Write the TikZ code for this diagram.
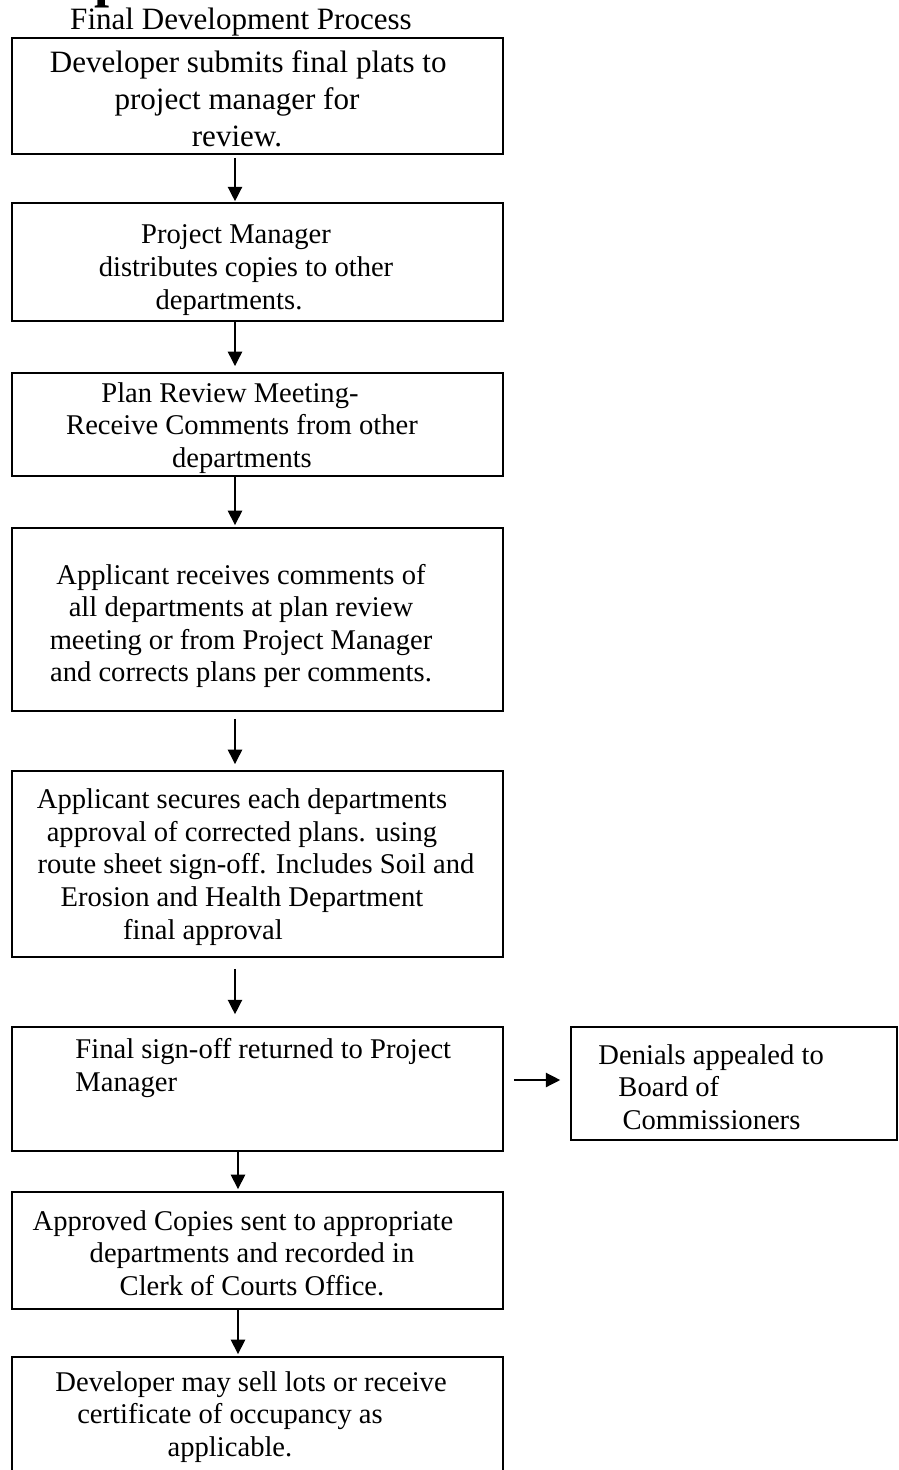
\documentclass[tikz,border=0pt]{standalone}
\usepackage{fontspec}
\setmainfont{Liberation Serif}
\usetikzlibrary{arrows.meta}
\def\pad#1{\makebox[#1]{}}

\begin{document}
\begin{tikzpicture}[
    x=0.4444pt, y=-0.4444pt,   % one unit = one pixel of the sheet
    procbox/.style={
        draw,
        rectangle,
        line width=0.8pt,
        inner sep=0pt,
        minimum width=491*0.4444pt
    },
    proctext/.style={
        align=center,
        inner sep=0pt,
        font=\fontsize{12.7pt}{14.5pt}\selectfont
    },
    bigtext/.style={
        proctext,
        font=\fontsize{13.8pt}{16.5pt}\selectfont
    },
    flow arrow/.style={
        line width=0.6pt,
        -{Triangle[length=6.4pt, width=6.4pt]}
    }
]
\useasboundingbox (0,0) rectangle (898,1470);

        \node[inner sep=0pt, anchor=base west, font=\fontsize{24pt}{28pt}\selectfont\bfseries] (cut) at (94,-3.7) {p};
        \node[bigtext] (title) at (241,22) {Final Development Process};

        \node[procbox, minimum height=116*0.4444pt] (b1) at (257.5,96) {};
        \node[procbox, minimum height=118*0.4444pt] (b2) at (257.5,262) {};
        \node[procbox, minimum height=103*0.4444pt] (b3) at (257.5,424.5) {};
        \node[procbox, minimum height=183*0.4444pt] (b4) at (257.5,619.5) {};
        \node[procbox, minimum height=186*0.4444pt] (b5) at (257.5,864) {};
        \node[procbox, minimum height=124*0.4444pt] (b6) at (257.5,1089) {};
        \node[procbox, minimum height=113*0.4444pt, minimum width=326*0.4444pt] (den) at (734,1083.5) {};
        \node[procbox, minimum height=117*0.4444pt] (b7) at (257.5,1250.5) {};
        \node[procbox, minimum height=120*0.4444pt] (b8) at (257.5,1417) {};

        \node[bigtext] (t1) at (237,99) {\pad{10pt}Developer submits final plats to\\ project manager for\\ review.};
        \node[proctext] (t2) at (236,270) {Project Manager\\ \pad{8.9pt}distributes copies to other\\ departments.\pad{6.2pt}};
        \node[proctext] (t3) at (242,428) {Plan Review Meeting-\pad{10.7pt}\\ Receive Comments from other\\ departments};
        \node[proctext] (t4) at (241,626) {Applicant receives comments of\\ all departments at plan review\\ meeting or from Project Manager\\ and corrects plans per comments.};
        \node[proctext] (t5) at (242,867) {Applicant secures each departments\\ approval of corrected plans. using\\ \pad{12.4pt}route sheet sign-off. Includes Soil and\\ Erosion and Health Department\\ final approval\pad{34.7pt}};
        \node[proctext, align=left, anchor=west] (t6) at (75,1068) {Final sign-off returned to Project\\ Manager};
        \node[proctext, align=left, anchor=west] (tden) at (598,1087) {Denials appealed to\\ \hspace*{8.9pt}Board of\\ \hspace*{10.7pt}Commissioners};
        \node[proctext] (t7) at (252,1253) {Approved Copies sent to appropriate\pad{8pt}\\ departments and recorded in\\ Clerk of Courts Office.};
        \node[proctext] (t8) at (230,1417) {\pad{18.7pt}Developer may sell lots or receive\\ certificate of occupancy as\\ applicable.};

        \coordinate (colA) at (235,0);
        \coordinate (colB) at (238,0);
        \coordinate (side) at (0,1080);

    \draw[flow arrow, shorten <=1.3pt, shorten >=0.4pt] (b1.south -| colA) -- (b2.north -| colA);
    \draw[flow arrow, shorten >=2.7pt] (b2.south -| colA) -- (b3.north -| colA);
    \draw[flow arrow, shorten >=0.9pt] (b3.south -| colA) -- (b4.north -| colA);
    \draw[flow arrow, shorten <=3.1pt, shorten >=2.7pt] (b4.south -| colA) -- (b5.north -| colA);
    \draw[flow arrow, shorten <=4.9pt, shorten >=5.3pt] (b5.south -| colA) -- (b6.north -| colA);
    \draw[flow arrow, shorten >=0.9pt] (b6.south -| colB) -- (b7.north -| colB);
    \draw[flow arrow, shorten >=0.9pt] (b7.south -| colB) -- (b8.north -| colB);

    \draw[flow arrow, shorten <=4.4pt, shorten >=4.4pt] (b6.east |- side) -- (den.west |- side);
\end{tikzpicture}
\end{document}
